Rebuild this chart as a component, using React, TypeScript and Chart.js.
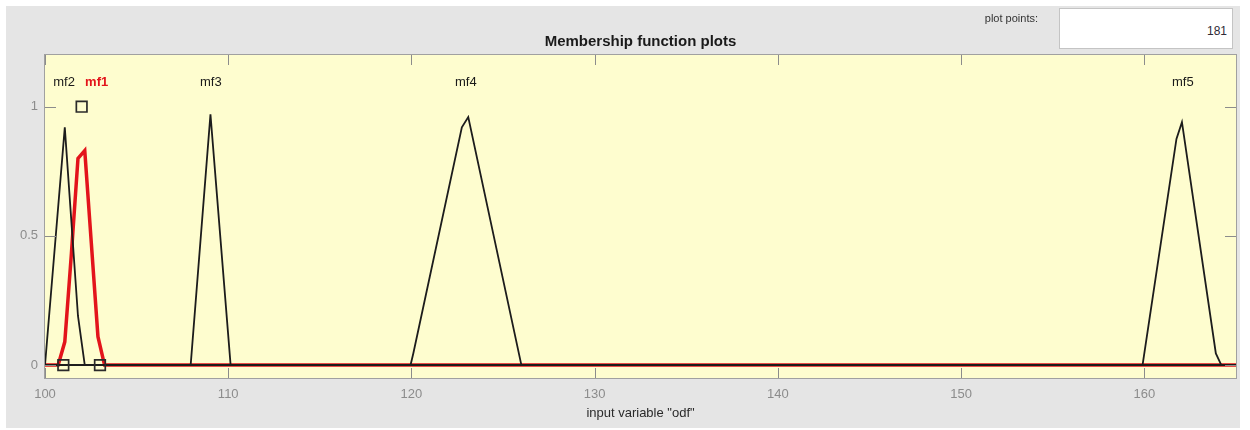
import React, { useEffect, useRef } from 'react';
import { Chart, registerables } from 'chart.js';

Chart.register(...registerables);

// ---- data ----
const xTicks = [100, 110, 120, 130, 140, 150, 160];
const yTicks = [0, 0.5, 1];

const mf1X = [100, 100.72, 101.08, 101.44, 101.8, 102.17, 102.53, 102.89, 103.25, 165];
const mf1Y = [0, 0, 0.09, 0.43, 0.8, 0.83, 0.47, 0.11, 0, 0];

const mf2X = [100, 101.08, 101.8, 102.17, 165];
const mf2Y = [0, 0.92, 0.19, 0, 0];

const mf3X = [100, 107.95, 109.03, 110.13, 165];
const mf3Y = [0, 0, 0.97, 0, 0];

const mf4X = [100, 119.95, 120.1, 122.75, 123.1, 126.0, 165];
const mf4Y = [0, 0, 0.045, 0.92, 0.96, 0, 0];

const mf5X = [100, 159.9, 161.75, 162.05, 163.9, 164.2, 165];
const mf5Y = [0, 0, 0.875, 0.94, 0.045, 0, 0];

const markerX = [101, 102, 103];
const markerY = [0, 1, 0];

const mfNames = ['mf1', 'mf2', 'mf3', 'mf4', 'mf5'];
const mfLabelX = [102.82, 101.04, 109.05, 122.97, 162.1];
const mfLabelY = 1.095;

const chartTitle = 'Membership function plots';
const xTitle = 'input variable "odf"';
const plotPointsLabel = 'plot points:';
const plotPointsValue = '181';

const FONT = "'Liberation Sans', Arial, Helvetica, sans-serif";

const pts = (xs: number[], ys: number[]) => xs.map((x, i) => ({ x, y: ys[i] }));

export default function App() {
  const ref = useRef<HTMLCanvasElement | null>(null);

  useEffect(() => {
    if (!ref.current) return;
    Chart.defaults.font.family = FONT;

    const bgPlugin = {
      id: 'bgPlugin',
      beforeDraw(chart: any) {
        const { ctx, chartArea } = chart;
        ctx.save();
        ctx.fillStyle = '#ffffff';
        ctx.fillRect(0, 0, chart.width, chart.height);
        ctx.fillStyle = '#e5e5e5';
        ctx.fillRect(6, 6, 1234, 422);
        ctx.fillStyle = '#fefdcf';
        ctx.fillRect(chartArea.left, chartArea.top, chartArea.right - chartArea.left, chartArea.bottom - chartArea.top);
        ctx.restore();
      },
      afterDraw(chart: any) {
        const { ctx, chartArea } = chart;
        const xs = chart.scales.x;
        const ys = chart.scales.y;
        const { left, right, top, bottom } = chartArea;
        ctx.save();
        // frame
        ctx.strokeStyle = '#a0a0a0';
        ctx.lineWidth = 1;
        ctx.strokeRect(Math.round(left) - 0.5, Math.round(top) - 0.5, Math.round(right - left) + 1, Math.round(bottom - top) + 1);
        // inward ticks
        ctx.strokeStyle = '#8c8c8c';
        ctx.beginPath();
        xTicks.forEach((v) => {
          const px = Math.round(xs.getPixelForValue(v)) + 0.5;
          ctx.moveTo(px, bottom);
          ctx.lineTo(px, bottom - 10);
          ctx.moveTo(px, top);
          ctx.lineTo(px, top + 10);
        });
        yTicks.forEach((v) => {
          const py = Math.round(ys.getPixelForValue(v)) + 0.5;
          ctx.moveTo(left, py);
          ctx.lineTo(left + 11, py);
          ctx.moveTo(right, py);
          ctx.lineTo(right - 11, py);
        });
        ctx.stroke();
        // MF labels
        ctx.textAlign = 'center';
        ctx.textBaseline = 'middle';
        mfNames.forEach((name, i) => {
          const selected = i === 0;
          ctx.font = (selected ? 'bold ' : '') + '13px ' + FONT;
          ctx.fillStyle = selected ? '#e3141b' : '#1a1a1a';
          ctx.fillText(name, xs.getPixelForValue(mfLabelX[i]), ys.getPixelForValue(mfLabelY));
        });
        // chart title
        ctx.font = 'bold 15px ' + FONT;
        ctx.fillStyle = '#1a1a1a';
        ctx.fillText(chartTitle, (left + right) / 2, 42);
        ctx.restore();
      },
    };

    const black = '#1c1c1c';
    const chart = new Chart(ref.current, {
      type: 'scatter',
      data: {
        datasets: [
          {
            label: 'vertices',
            data: pts(markerX, markerY),
            showLine: false,
            pointStyle: 'rect',
            pointRadius: 7.5,
            pointBorderWidth: 1.7,
            pointBorderColor: '#2a2a2a',
            pointBackgroundColor: 'rgba(0,0,0,0)',
          },
          { label: 'mf2', data: pts(mf2X, mf2Y), showLine: true, borderColor: black, borderWidth: 1.8, pointRadius: 0, tension: 0 },
          { label: 'mf3', data: pts(mf3X, mf3Y), showLine: true, borderColor: black, borderWidth: 1.8, pointRadius: 0, tension: 0 },
          { label: 'mf4', data: pts(mf4X, mf4Y), showLine: true, borderColor: black, borderWidth: 1.8, pointRadius: 0, tension: 0 },
          { label: 'mf5', data: pts(mf5X, mf5Y), showLine: true, borderColor: black, borderWidth: 1.8, pointRadius: 0, tension: 0 },
          { label: 'mf1', data: pts(mf1X, mf1Y), showLine: true, borderColor: '#e3141b', borderWidth: 3.5, pointRadius: 0, tension: 0 },
        ],
      },
      options: {
        responsive: false,
        animation: false,
        devicePixelRatio: 1,
        layout: { padding: { left: 0, top: 55, right: 14, bottom: 0 } },
        plugins: {
          legend: { display: false },
          title: { display: false },
          tooltip: { enabled: false },
        },
        scales: {
          x: {
            type: 'linear',
            min: 100,
            max: 165,
            afterBuildTicks: (s: any) => {
              s.ticks = xTicks.map((v) => ({ value: v }));
            },
            afterFit: (s: any) => {
              s.height = 52;
            },
            grid: { display: false, drawTicks: false },
            border: { display: false },
            ticks: {
              color: '#8c8c8c',
              font: { size: 13 },
              padding: 9,
              maxRotation: 0,
              autoSkip: false,
              callback: (v: any) => String(v),
            },
            title: {
              display: true,
              text: xTitle,
              color: '#2a2a2a',
              font: { size: 13 },
              padding: { top: 0, bottom: 9 },
            },
          },
          y: {
            type: 'linear',
            min: -0.05,
            max: 1.2,
            afterBuildTicks: (s: any) => {
              s.ticks = yTicks.map((v) => ({ value: v }));
            },
            afterFit: (s: any) => {
              s.width = 45;
            },
            grid: { display: false, drawTicks: false },
            border: { display: false },
            ticks: {
              color: '#8c8c8c',
              font: { size: 13 },
              padding: 7,
              autoSkip: false,
              callback: (v: any) => String(v),
            },
          },
        },
      },
      plugins: [bgPlugin],
    } as any);

    return () => chart.destroy();
  }, []);

  return (
    <div style={{ position: 'absolute', left: 0, top: 0, width: 1250, height: 430 }}>
      <canvas ref={ref} width={1250} height={430} style={{ display: 'block', width: 1250, height: 430 }} />
      <div
        style={{
          position: 'absolute',
          right: 1250 - 1038,
          top: 12,
          font: '11px ' + FONT,
          color: '#333',
          whiteSpace: 'nowrap',
        }}
      >
        {plotPointsLabel}
      </div>
      <div
        style={{
          position: 'absolute',
          left: 1059,
          top: 8,
          width: 174,
          height: 41,
          boxSizing: 'border-box',
          background: '#ffffff',
          border: '1px solid #c4c4c4',
          font: '12px ' + FONT,
          color: '#2e2a36',
          textAlign: 'right',
          paddingRight: 5,
          paddingTop: 15,
        }}
      >
        {plotPointsValue}
      </div>
    </div>
  );
}
